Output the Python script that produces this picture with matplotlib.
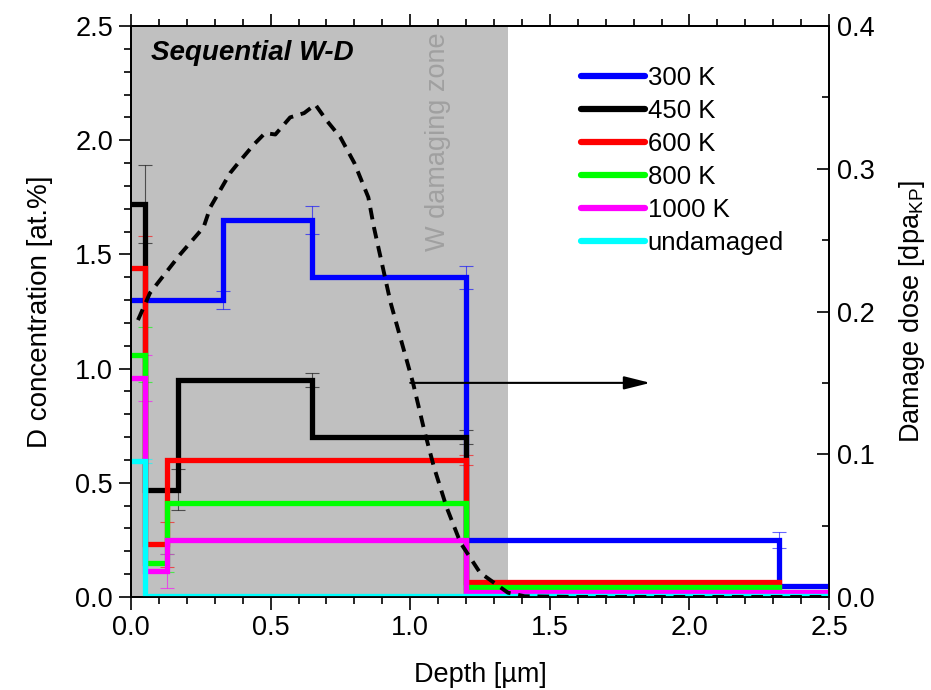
import matplotlib
matplotlib.use("Agg")
import matplotlib.pyplot as plt
from matplotlib.ticker import MultipleLocator

plt.rcParams["font.family"] = ["Liberation Sans", "DejaVu Sans"]
plt.rcParams["mathtext.fontset"] = "custom"
plt.rcParams["mathtext.rm"] = "Liberation Sans"
plt.rcParams["mathtext.it"] = "Liberation Sans:italic"

# step profiles: depth edges [um] and D concentration [at.%]
labels = ["300 K", "450 K", "600 K", "800 K", "1000 K", "undamaged"]
colors = ["#0000ff", "#000000", "#ff0000", "#00ff00", "#ff00ff", "#00ffff"]

edges_300 = [0.0, 0.33, 0.65, 1.2, 2.32, 2.5]
conc_300 = [1.30, 1.65, 1.40, 0.25, 0.05]
edges_450 = [0.0, 0.05, 0.17, 0.65, 1.2, 2.5]
conc_450 = [1.72, 0.47, 0.95, 0.70, 0.012]
edges_600 = [0.0, 0.05, 0.13, 1.2, 2.32, 2.5]
conc_600 = [1.44, 0.23, 0.60, 0.065, 0.015]
edges_800 = [0.0, 0.05, 0.13, 1.2, 2.32, 2.5]
conc_800 = [1.06, 0.15, 0.41, 0.045, 0.02]
edges_1000 = [0.0, 0.05, 0.13, 1.2, 2.5]
conc_1000 = [0.96, 0.114, 0.25, 0.02]
edges_und = [0.0, 0.05, 2.5]
conc_und = [0.595, 0.006]

# error bars (x position, value, error)
err_300 = ([0.33, 0.65, 1.2, 2.32], [1.30, 1.65, 1.40, 0.25], [0.04, 0.06, 0.05, 0.035])
err_450 = ([0.05, 0.17, 0.65, 1.2], [1.72, 0.47, 0.95, 0.70], [0.17, 0.09, 0.03, 0.03])
err_600 = ([0.05, 0.13, 1.2], [1.44, 0.23, 0.60], [0.14, 0.10, 0.02])
err_800 = ([0.05, 0.13], [1.06, 0.15], [0.12, 0.04])
err_1000 = ([0.05, 0.13], [0.96, 0.114], [0.10, 0.075])
err_und = ([0.05], [0.595], [0.01])

# damage dose profile
dose_depth = [0.025, 0.068, 0.176, 0.26, 0.284, 0.355, 0.384, 0.44, 0.48, 0.517, 0.57,
              0.62, 0.66, 0.70, 0.75, 0.80, 0.85, 0.87, 0.93, 1.01, 1.05, 1.085, 1.13,
              1.18, 1.25, 1.35, 1.41, 1.6, 2.0, 2.5]
dose_dpa = [0.194, 0.213, 0.24, 0.259, 0.273, 0.297, 0.304, 0.317, 0.325, 0.324, 0.336,
            0.339, 0.345, 0.334, 0.322, 0.304, 0.280, 0.259, 0.206, 0.15, 0.117, 0.091,
            0.063, 0.038, 0.017, 0.003, 0.0005, 0.0, 0.0, 0.0]

zone_end = 1.35

steps = [(edges_300, conc_300), (edges_450, conc_450), (edges_600, conc_600),
         (edges_800, conc_800), (edges_1000, conc_1000), (edges_und, conc_und)]
errs = [err_300, err_450, err_600, err_800, err_1000, err_und]

fig = plt.figure(figsize=(9.31, 6.9), dpi=100)
ax = fig.add_axes([0.1407, 0.1348, 0.7498, 0.8275])
ax2 = ax.twinx()

ax.axvspan(0, zone_end, color="#c0c0c0", lw=0, zorder=0)

handles = []
for (edges, vals), (ex, ey, ee), col, lab in zip(steps, errs, colors, labels):
    ax.errorbar(ex, ey, yerr=ee, fmt="none", ecolor=col, elinewidth=0.8,
                capsize=5, capthick=0.8, alpha=0.6, zorder=2)
    ax.stairs(vals, edges, baseline=None, color=col, lw=3.8, zorder=3)
    h, = ax.plot([], [], color=col, lw=4.5, solid_capstyle="round", label=lab)
    handles.append(h)

ax2.plot(dose_depth, dose_dpa, color="black", lw=2.8, ls=(0, (3.0, 2.0)))
ax2.annotate("", xy=(1.86, 0.15), xytext=(1.0, 0.15),
             arrowprops=dict(arrowstyle="-|>,head_length=0.8,head_width=0.2",
                             color="black", lw=1.5,
                             mutation_scale=20, shrinkA=0, shrinkB=0))

ax.set_xlim(0, 2.5)
ax.set_ylim(0, 2.5)
ax2.set_ylim(0, 0.4)

ax.xaxis.set_major_locator(MultipleLocator(0.5))
ax.xaxis.set_minor_locator(MultipleLocator(0.1))
ax.yaxis.set_major_locator(MultipleLocator(0.5))
ax.yaxis.set_minor_locator(MultipleLocator(0.1))
ax2.yaxis.set_major_locator(MultipleLocator(0.1))
ax2.yaxis.set_minor_locator(MultipleLocator(0.05))
ax.xaxis.set_major_formatter(lambda v, p: f"{v:.1f}")
ax.yaxis.set_major_formatter(lambda v, p: f"{v:.1f}")
ax2.yaxis.set_major_formatter(lambda v, p: f"{v:.1f}")

ax.tick_params(axis="both", which="both", direction="out", top=True, labelsize=19.5,
               width=1.2, pad=4)
ax.tick_params(which="major", length=9)
ax.tick_params(which="minor", length=5)
ax2.tick_params(axis="y", which="both", direction="in", labelsize=19.5, width=1.2, pad=6)
ax2.tick_params(which="major", length=9)
ax2.tick_params(which="minor", length=5)
for a in (ax, ax2):
    for s in a.spines.values():
        s.set_linewidth(1.3)

ax.set_xlabel("Depth [\u00b5m]", fontsize=19.5, labelpad=15)
ax.set_ylabel("D concentration [at.%]", fontsize=20, labelpad=16)
ax2.set_ylabel(r"Damage dose [dpa$_{\mathregular{KP}}$]", fontsize=19.5, labelpad=16)

ax.text(0.07, 2.38, "Sequential W-D", fontsize=20, fontweight="bold",
        fontstyle="italic", va="center", ha="left")
ax.text(1.10, 2.47, "W damaging zone", fontsize=19.5, color="#a0a0a0",
        rotation=90, ha="center", va="top")

ax.legend(handles=handles, loc="upper left", bbox_to_anchor=(0.63, 0.948),
          frameon=False, fontsize=18.5, handlelength=2.5, handletextpad=0.1,
          labelspacing=0.35, borderaxespad=0)

fig.savefig("out.png", dpi=100)
